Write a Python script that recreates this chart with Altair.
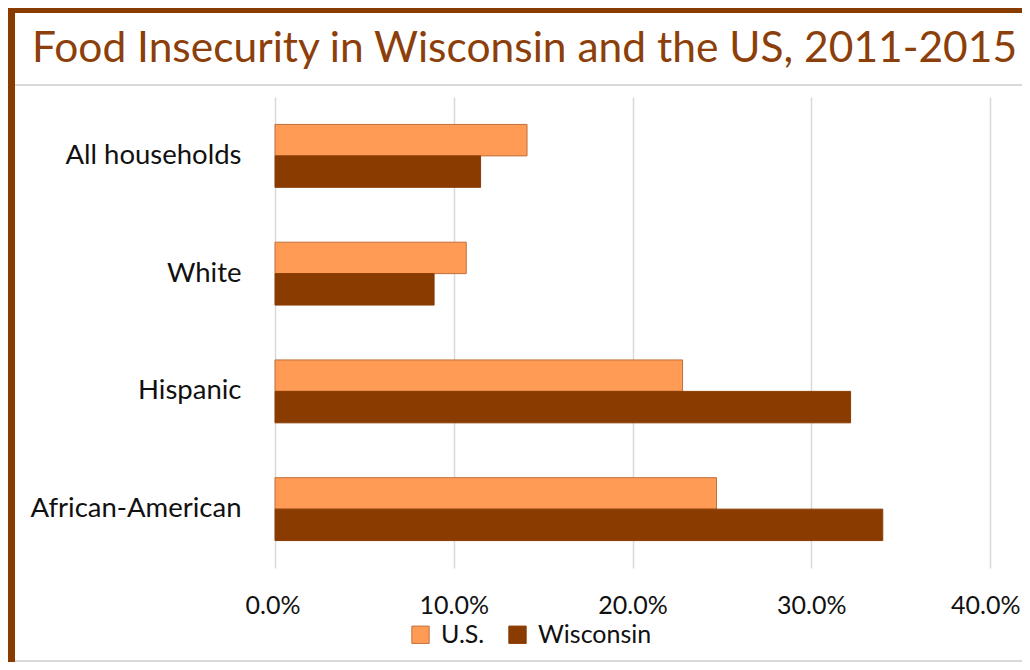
import altair as alt
import pandas as pd

categories = ["All households", "White", "Hispanic", "African-American"]
series = ["U.S.", "Wisconsin"]
us_values = [0.141, 0.107, 0.228, 0.247]
wi_values = [0.115, 0.089, 0.322, 0.340]
x_ticks = [0.0, 0.1, 0.2, 0.3, 0.4]
title_text = "Food Insecurity in Wisconsin and the US, 2011-2015"

rows = []
for c, u, w in zip(categories, us_values, wi_values):
    rows.append({"category": c, "series": series[0], "value": u})
    rows.append({"category": c, "series": series[1], "value": w})
df = pd.DataFrame(rows)

FONT = "Lato"
W, H = 715, 471

bars = alt.Chart(df).mark_bar(strokeWidth=1).encode(
    x=alt.X("value:Q", scale=alt.Scale(domain=[0, 0.4], nice=False),
            axis=alt.Axis(values=x_ticks, format=".1%", title=None, domain=False, ticks=False,
                          grid=True, gridColor="#d9d9d9", gridWidth=1.5,
                          labelFlush=True, labelFlushOffset=30,
                          labelFont=FONT, labelFontSize=25, labelColor="#111111", labelPadding=25)),
    y=alt.Y("category:N", sort=categories,
            scale=alt.Scale(paddingInner=0.466, paddingOuter=0.233),
            axis=alt.Axis(title=None, domain=False, ticks=False, grid=False, labelFont=FONT,
                          labelFontSize=27.5, labelColor="#111111", labelPadding=34, labelLimit=300)),
    yOffset=alt.YOffset("series:N", sort=series),
    color=alt.Color("series:N", sort=series,
                    scale=alt.Scale(domain=series, range=["#FF9B55", "#8A3B00"]),
                    legend=alt.Legend(title=None, orient="none", legendX=133, legendY=525,
                                      direction="horizontal", symbolType="square", symbolSize=300,
                                      symbolStrokeColor="#B5652A", symbolStrokeWidth=1,
                                      labelFont=FONT, labelFontSize=25, labelColor="#111111",
                                      labelOffset=8, columnPadding=20, padding=0)),
    stroke=alt.Stroke("series:N", sort=series,
                      scale=alt.Scale(domain=series, range=["#C0703A", "#8A3B00"]), legend=None),
)

frame_color = "#8A3B00"
left_border = alt.Chart().mark_rule(color=frame_color, strokeWidth=7).encode(
    x=alt.value(-263.5), y=alt.value(-100), y2=alt.value(600))
top_border = alt.Chart().mark_rule(color=frame_color, strokeWidth=7).encode(
    x=alt.value(-267), x2=alt.value(760), y=alt.value(-87.5))
title_rule = alt.Chart().mark_rule(color="#d9d9d9", strokeWidth=2).encode(
    x=alt.value(-260), x2=alt.value(760), y=alt.value(-12))
bottom_rule = alt.Chart().mark_rule(color="#d9d9d9", strokeWidth=2).encode(
    x=alt.value(-260), x2=alt.value(760), y=alt.value(564))
title = alt.Chart().mark_text(text=title_text, font=FONT, fontSize=42.5, color="#8C3F0A",
                              align="left", baseline="alphabetic").encode(
    x=alt.value(-243), y=alt.value(-35))

chart = alt.layer(bars, title_rule, bottom_rule, left_border, top_border, title).properties(
    width=W, height=H, background="white",
    padding={"left": 267, "top": 89, "right": 32, "bottom": 94},
    autosize=alt.AutoSizeParams(type="none"),
).configure_view(stroke="transparent", strokeOpacity=0)

chart.save("out.html", embed_options={"renderer": "svg", "actions": False})
